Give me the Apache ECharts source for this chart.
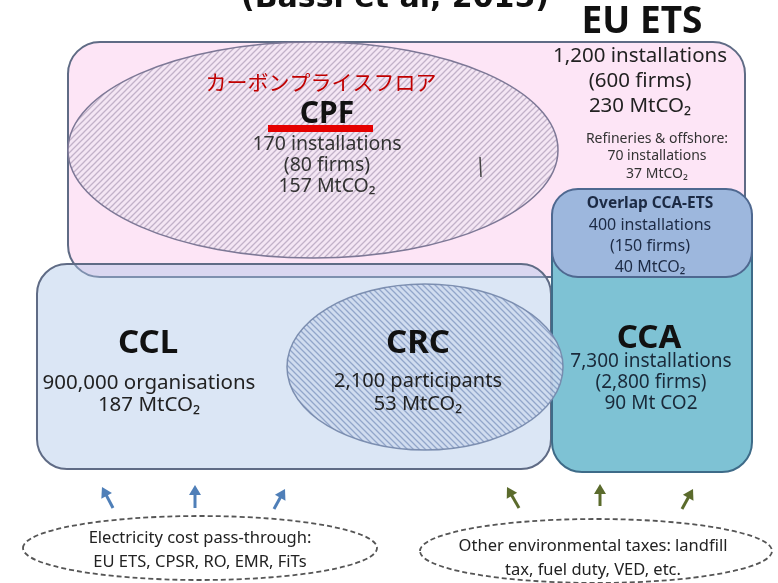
<!DOCTYPE html>
<html>
<head>
<meta charset="utf-8">
<title>UK carbon pricing schemes</title>
<script src="https://cdn.jsdelivr.net/npm/echarts@6/dist/echarts.min.js"></script>
<style>
html, body { margin: 0; padding: 0; background: #fff; }
#main { width: 778px; height: 583px; }
</style>
</head>
<body>
<div id="main"></div>
<script>
// 文字数据
var source = '(Bassi et al, 2015)';
var schemeNames = ['EU ETS', 'CPF', 'CCL', 'CRC', 'CCA', 'Overlap CCA-ETS'];
var cpfJapanese = 'カーボンプライスフロア';
var euEtsLines = ['1,200 installations', '(600 firms)', '230 MtCO₂'];
var refineryLines = ['Refineries & offshore:', '70 installations', '37 MtCO₂'];
var overlapLines = ['400 installations', '(150 firms)', '40 MtCO₂'];
var cpfLines = ['170 installations', '(80 firms)', '157 MtCO₂'];
var cclLines = ['900,000 organisations', '187 MtCO₂'];
var crcLines = ['2,100 participants', '53 MtCO₂'];
var ccaLines = ['7,300 installations', '(2,800 firms)', '90 Mt CO2'];
var passThroughLines = ['Electricity cost pass-through:', 'EU ETS, CPSR, RO, EMR, FiTs'];
var otherTaxLines = ['Other environmental taxes: landfill', 'tax, fuel duty, VED, etc.'];

var W = 778, H = 583;

//斜线填充
function hatch(bg, line, dir) {
	var s = 6;
	var c = document.createElement('canvas');
	c.width = s;
	c.height = s;
	var g = c.getContext('2d');
	g.fillStyle = bg;
	g.fillRect(0, 0, s, s);
	g.strokeStyle = line;
	g.lineWidth = 1.3;
	g.beginPath();
	if (dir > 0) {
		g.moveTo(-1, s + 1); g.lineTo(s + 1, -1);
		g.moveTo(-1, 1); g.lineTo(1, -1);
		g.moveTo(s - 1, s + 1); g.lineTo(s + 1, s - 1);
	} else {
		g.moveTo(-1, -1); g.lineTo(s + 1, s + 1);
		g.moveTo(s - 1, -1); g.lineTo(s + 1, 1);
		g.moveTo(-1, s - 1); g.lineTo(1, s + 1);
	}
	g.stroke();
	return { image: c, repeat: 'repeat' };
}

// 区域布局 (坐标轴单位 = 像素)
var regions = [
	{ kind: 'rect', x0: 68, y0: 42, x1: 745, y1: 277, r: 32, fill: '#fde5f6', stroke: '#5f6b85', lw: 2 },
	{ kind: 'ellipse', cx: 313, cy: 150, rx: 245, ry: 108, fill: hatch('#f4e6f4', '#c2b2c9', 1), stroke: '#7d7896', lw: 1.5 },
	{ kind: 'rect', x0: 37, y0: 264, x1: 551, y1: 469, r: 30, fill: 'rgba(170,195,230,0.42)', stroke: '#5f6b85', lw: 2 },
	{ kind: 'rect', x0: 552, y0: 190, x1: 752, y1: 472, r: 30, fill: '#7ec2d4', stroke: '#3e6b88', lw: 2 },
	{ kind: 'rect', x0: 552, y0: 189, x1: 752, y1: 277, r: 26, fill: '#9db7dd', stroke: '#4e6890', lw: 2 },
	{ kind: 'ellipse', cx: 425, cy: 367, rx: 138, ry: 83, fill: hatch('#cfdbef', '#8a9fc6', -1), stroke: '#7386aa', lw: 1.5, opacity: 0.9 },
	{ kind: 'rect', x0: 268, y0: 125, x1: 373, y1: 132, r: 0, fill: '#e50000', stroke: null, lw: 0 },
	{ kind: 'line', x0: 480, y0: 157, x1: 481, y1: 177, stroke: '#444', lw: 1.5 },
	{ kind: 'ellipse', cx: 200, cy: 548, rx: 177, ry: 32, fill: null, stroke: '#555', lw: 1.8, dash: [5, 3] },
	{ kind: 'ellipse', cx: 596, cy: 551, rx: 176, ry: 32, fill: null, stroke: '#555', lw: 1.8, dash: [5, 3] }
];

var blue = '#4f7fb8', green = '#5b6b2c';
var arrows = [
	[113, 508, 102, 487, blue], [195, 508, 195, 485, blue], [274, 509, 285, 489, blue],
	[519, 508, 507, 487, green], [600, 506, 600, 484, green], [682, 509, 693, 489, green]
];

// 文字布局
var texts = [];
function addText(t, x, y, size, opt) {
	opt = opt || {};
	texts.push({ t: t, x: x, y: y, size: size, bold: opt.bold, color: opt.color || '#222', family: opt.family || 'Noto Sans' });
}
function addLines(lines, x, y, step, size, opt) {
	for (var i = 0; i < lines.length; i++) {
		addText(lines[i], x, y + i * step, size, opt);
	}
}
addText(source, 395, -1, 30, { bold: true, color: '#111', family: 'DejaVu Sans' });
addText(schemeNames[0], 642, 22, 37, { bold: true, color: '#111' });
addLines(euEtsLines, 640, 56, 25, 20.5);
addLines(refineryLines, 657, 139, 17.5, 14, { color: '#333' });
addText(cpfJapanese, 321, 82, 21, { color: '#c00000', family: 'Noto Sans CJK JP' });
addText(schemeNames[1], 327, 114, 30, { bold: true, color: '#111' });
addLines(cpfLines, 327, 144, 21, 19.5, { color: '#333' });
addText(schemeNames[5], 650, 204, 15.5, { bold: true, color: '#1c2a44' });
addLines(overlapLines, 650, 225, 21, 16, { color: '#1c2a44' });
addText(schemeNames[2], 148, 344, 33, { bold: true, color: '#111' });
addLines(cclLines, 149, 383, 22, 20.5);
addText(schemeNames[3], 418, 344, 33, { bold: true, color: '#111' });
addLines(crcLines, 418, 381, 23, 20);
addText(schemeNames[4], 649, 339, 33, { bold: true, color: '#111' });
addLines(ccaLines, 651, 362, 21, 19, { color: '#1a2a3a' });
addLines(passThroughLines, 200, 538, 24, 16.5);
addLines(otherTaxLines, 593, 546, 24, 16.5);

function idx(list) {
	return list.map(function(d, i) { return [i]; });
}

var chart = echarts.init(document.getElementById('main'));
var option = {
	animation: false,
	backgroundColor: '#fff',
	grid: { left: 0, right: 0, top: 0, bottom: 0 },
	xAxis: { type: 'value', min: 0, max: W, show: false },
	yAxis: { type: 'value', min: 0, max: H, inverse: true, show: false },
	series: [{
		type: 'custom',
		data: idx(regions),
		silent: true,
		renderItem: function(params, api) {
			var s = regions[api.value(0)];
			var style = { fill: s.fill || 'none', stroke: s.stroke || null, lineWidth: s.lw, lineDash: s.dash || null, opacity: s.opacity == undefined ? 1 : s.opacity };
			if (s.kind == 'rect') {
				var a = api.coord([s.x0, s.y0]), b = api.coord([s.x1, s.y1]);
				return { type: 'rect', shape: { x: a[0], y: a[1], width: b[0] - a[0], height: b[1] - a[1], r: s.r }, style: style };
			}
			if (s.kind == 'line') {
				var p = api.coord([s.x0, s.y0]), q = api.coord([s.x1, s.y1]);
				return { type: 'line', shape: { x1: p[0], y1: p[1], x2: q[0], y2: q[1] }, style: style };
			}
			var c = api.coord([s.cx, s.cy]), e = api.coord([s.cx + s.rx, s.cy + s.ry]);
			return { type: 'ellipse', shape: { cx: c[0], cy: c[1], rx: e[0] - c[0], ry: e[1] - c[1] }, style: style };
		}
	}, {
		type: 'custom',
		data: idx(arrows),
		silent: true,
		renderItem: function(params, api) {
			var a = arrows[api.value(0)];
			var p = api.coord([a[0], a[1]]), q = api.coord([a[2], a[3]]);
			var dx = q[0] - p[0], dy = q[1] - p[1];
			var len = Math.sqrt(dx * dx + dy * dy);
			var ux = dx / len, uy = dy / len;
			var hl = 10, hw = 6;
			var bx = q[0] - ux * hl, by = q[1] - uy * hl;
			return {
				type: 'group',
				children: [{
					type: 'line',
					shape: { x1: p[0], y1: p[1], x2: bx + ux * 2, y2: by + uy * 2 },
					style: { stroke: a[4], lineWidth: 3 }
				}, {
					type: 'polygon',
					shape: { points: [[q[0], q[1]], [bx - uy * hw, by + ux * hw], [bx + uy * hw, by - ux * hw]] },
					style: { fill: a[4] }
				}]
			};
		}
	}, {
		type: 'custom',
		data: idx(texts),
		silent: true,
		renderItem: function(params, api) {
			var t = texts[api.value(0)];
			var p = api.coord([t.x, t.y]);
			return {
				type: 'text',
				x: p[0],
				y: p[1],
				style: {
					text: t.t,
					fill: t.color,
					fontSize: t.size,
					fontWeight: t.bold ? 'bold' : 'normal',
					fontFamily: t.family,
					align: 'center',
					verticalAlign: 'middle'
				}
			};
		}
	}]
};
chart.setOption(option);
</script>
</body>
</html>
